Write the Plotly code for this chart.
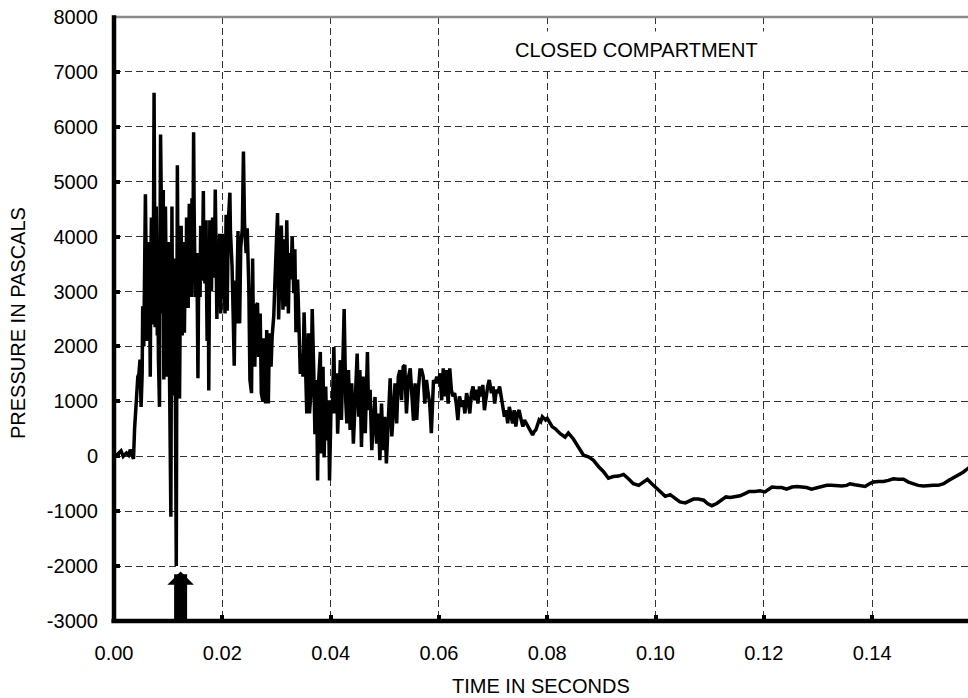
import plotly.graph_objects as go

# ---- data (time in s, pressure in Pa) ----
t_onset = [0.0000, 0.0005, 0.0009, 0.0013, 0.0017, 0.0020, 0.0023, 0.0027, 0.0030, 0.0033,
           0.0036, 0.0038, 0.0040, 0.0042, 0.0044, 0.0046, 0.0048, 0.0050, 0.0052, 0.0053, 0.0055]
p_onset = [0, 20, 60, 100, 0, 40, 60, 20, 120, 40,
           -50, 500, 880, 1150, 1450, 1500, 1760, 900, 1500, 2730, 2000]

t_burst = [0.0058, 0.0060, 0.0061, 0.0063, 0.0064, 0.0066, 0.0067, 0.0068, 0.0069, 0.0070,
           0.0071, 0.0073, 0.0074, 0.0075, 0.0076, 0.0077, 0.0078, 0.0080, 0.0081, 0.0082,
           0.0084, 0.0085, 0.0086, 0.0088, 0.0089, 0.0090, 0.0091, 0.0092, 0.0093, 0.0095,
           0.0096, 0.0098, 0.0099, 0.0101, 0.0102, 0.0103, 0.0105, 0.0106, 0.0107, 0.0108,
           0.0109, 0.0110, 0.0111, 0.0112, 0.0113, 0.0115, 0.0116, 0.0117, 0.0118, 0.0120,
           0.0121, 0.0122, 0.0123, 0.0124, 0.0126, 0.0127, 0.0128, 0.0129, 0.0130, 0.0131,
           0.0132, 0.0133, 0.0134, 0.0135, 0.0137, 0.0138, 0.0139, 0.0140, 0.0142, 0.0143,
           0.0144, 0.0146, 0.0147, 0.0148, 0.0149, 0.0150, 0.0152, 0.0153, 0.0154, 0.0155,
           0.0156, 0.0158, 0.0159, 0.0160, 0.0161, 0.0163, 0.0164, 0.0165, 0.0166, 0.0168,
           0.0169, 0.0170, 0.0171, 0.0172, 0.0174, 0.0175, 0.0176, 0.0177, 0.0179, 0.0180,
           0.0181, 0.0182, 0.0184, 0.0185, 0.0186, 0.0187, 0.0189, 0.0190, 0.0191, 0.0192,
           0.0193, 0.0195, 0.0196, 0.0197, 0.0199, 0.0200, 0.0201, 0.0202, 0.0204, 0.0205,
           0.0206, 0.0207, 0.0208, 0.0209]
p_burst = [4770, 3200, 2100, 2900, 3900, 2600, 1450, 3400, 4350, 2400,
           3000, 4300, 6620, 4000, 2350, 3800, 4550, 2200, 3300, 1800,
           900, 3900, 5860, 4100, 2600, 3300, 4850, 1400, 2500, 4550,
           2900, 1450, 2400, 3900, 2000, 480, -1100, 2000, 4550, 2500,
           1100, 3100, 2600, 3600, 1500, -2000, 1800, 5300, 3600, 2500,
           1050, 2300, 3450, 4200, 2200, 3100, 3900, 2900, 2250, 3100,
           3650, 2800, 4350, 3300, 2700, 3600, 4600, 3000, 3600, 2900,
           4700, 4100, 5900, 4500, 3800, 2900, 3100, 3700, 2600, 1420,
           2800, 3600, 2900, 4200, 3300, 3200, 4000, 4830, 3600, 3150,
           3800, 4300, 3000, 2100, 3300, 1200, 2800, 4300, 3400, 3000,
           3900, 4350, 3600, 3250, 4000, 4860, 3300, 2500, 3400, 3800,
           3100, 4050, 3200, 2600, 3500, 4050, 3100, 3700, 3000, 2600,
           3500, 4400, 3300, 2650]

t_mid = [0.0211, 0.0214, 0.0215, 0.0218, 0.0220, 0.0222, 0.0224, 0.0226, 0.0229, 0.0232,
         0.0234, 0.0237, 0.0239, 0.0241, 0.0244, 0.0246, 0.0249, 0.0251, 0.0254, 0.0256,
         0.0257, 0.0260, 0.0262, 0.0265, 0.0267, 0.0270, 0.0272, 0.0275, 0.0277, 0.0280,
         0.0282, 0.0285, 0.0287, 0.0290, 0.0292, 0.0295, 0.0297, 0.0300, 0.0302, 0.0304,
         0.0307, 0.0309, 0.0312, 0.0314, 0.0317, 0.0319, 0.0322, 0.0324, 0.0327, 0.0329,
         0.0332, 0.0334, 0.0336, 0.0339, 0.0341, 0.0344, 0.0346, 0.0349, 0.0351, 0.0354,
         0.0356, 0.0359, 0.0361, 0.0364, 0.0366, 0.0369, 0.0371, 0.0374, 0.0376, 0.0378,
         0.0381, 0.0383, 0.0386, 0.0388, 0.0391, 0.0393, 0.0396, 0.0398, 0.0401, 0.0403,
         0.0406, 0.0408, 0.0411, 0.0413, 0.0415, 0.0418, 0.0420]
p_mid = [4250, 4800, 4100, 3460, 2600, 1650, 3200, 2420, 4100, 2420,
         3800, 4150, 5550, 4250, 3700, 4150, 3050, 1390, 1150, 3600,
         2670, 1630, 2730, 2790, 1810, 2600, 1150, 1000, 2150, 960,
         2300, 960, 2240, 1630, 2180, 2550, 3130, 4000, 4430, 2490,
         3650, 4200, 2670, 3950, 2730, 4300, 2600, 3700, 3220, 4000,
         2970, 3770, 2260, 3220, 2600, 1500, 1870, 1450, 2620, 1700,
         780, 2240, 780, 1200, 2680, 1500, 400, 1390, -440, 1390,
         1900, 50, 1630, -20, 1270, 290, 1020, -440, 1020, 780,
         1990, 780, 1510, 410, 1080, 1750, 660]

t_late = [0.0425, 0.0428, 0.0430, 0.0433, 0.0436, 0.0439, 0.0442, 0.0445, 0.0449, 0.0452,
          0.0454, 0.0457, 0.0460, 0.0464, 0.0468, 0.0470, 0.0473, 0.0476, 0.0479, 0.0482,
          0.0485, 0.0488, 0.0491, 0.0494, 0.0497, 0.0500, 0.0503, 0.0507, 0.0510, 0.0513,
          0.0516, 0.0519, 0.0522, 0.0525, 0.0528, 0.0531, 0.0534, 0.0537, 0.0540, 0.0544,
          0.0547, 0.0550, 0.0553, 0.0556, 0.0559, 0.0562, 0.0565, 0.0568, 0.0571, 0.0574,
          0.0577, 0.0580, 0.0583, 0.0586, 0.0590, 0.0593, 0.0596, 0.0599, 0.0602, 0.0605,
          0.0608, 0.0611, 0.0614, 0.0617, 0.0620, 0.0623, 0.0626, 0.0629, 0.0632, 0.0635,
          0.0638, 0.0642, 0.0645, 0.0648, 0.0651, 0.0654, 0.0657, 0.0660, 0.0663, 0.0666,
          0.0669, 0.0672, 0.0675, 0.0678, 0.0681, 0.0684, 0.0687, 0.0690, 0.0693, 0.0697,
          0.0700, 0.0703, 0.0706, 0.0709, 0.0712, 0.0715, 0.0718, 0.0721, 0.0724, 0.0727,
          0.0730, 0.0733, 0.0736, 0.0739, 0.0742, 0.0745, 0.0748, 0.0752, 0.0755, 0.0758,
          0.0761, 0.0764, 0.0767, 0.0770, 0.0773, 0.0776, 0.0779, 0.0782, 0.0785, 0.0788,
          0.0791, 0.0794, 0.0797, 0.0800, 0.0803, 0.0806, 0.0809]
p_late = [2680, 1000, 600, 1570, 480, 1330, 230, 900, 1870, 720,
          1570, 170, 1450, 420, 1900, 840, 1210, 110, 720, 1080,
          230, 780, -70, 960, 110, 720, -130, 1020, 1420, 360,
          840, 1330, 600, 1450, 1570, 1020, 1630, 1660, 780, 1450,
          1600, 1020, 650, 1330, 660, 1210, 1570, 1570, 1450, 960,
          1390, 1150, 960, 420, 1390, 1330, 1450, 1330, 1510, 1020,
          1600, 1090, 1570, 960, 1600, 1210, 1090, 1150, 960, 660,
          1090, 900, 1020, 780, 1150, 1020, 780, 1150, 1270, 1020,
          1210, 960, 1270, 1090, 1300, 840, 1090, 1270, 1390, 1150,
          1270, 960, 1210, 1150, 1270, 1090, 900, 720, 840, 600,
          900, 780, 600, 840, 540, 780, 840, 660, 540, 660,
          600, 540, 480, 420, 390, 450, 480, 570, 660, 630,
          720, 690, 660, 690, 630, 600, 540]

t_tail = [0.0815, 0.0824, 0.0833, 0.0839, 0.0848, 0.0858, 0.0867, 0.0876, 0.0885, 0.0895,
          0.0904, 0.0913, 0.0922, 0.0932, 0.0941, 0.0950, 0.0959, 0.0969, 0.0978, 0.0985,
          0.0993, 0.1002, 0.1012, 0.1018, 0.1027, 0.1036, 0.1045, 0.1055, 0.1064, 0.1070,
          0.1079, 0.1089, 0.1096, 0.1104, 0.1113, 0.1122, 0.1130, 0.1138, 0.1147, 0.1156,
          0.1165, 0.1173, 0.1184, 0.1193, 0.1202, 0.1208, 0.1215, 0.1224, 0.1233, 0.1242,
          0.1252, 0.1261, 0.1270, 0.1279, 0.1288, 0.1298, 0.1307, 0.1316, 0.1325, 0.1335,
          0.1344, 0.1353, 0.1359, 0.1368, 0.1378, 0.1387, 0.1395, 0.1402, 0.1412, 0.1421,
          0.1430, 0.1439, 0.1448, 0.1458, 0.1467, 0.1476, 0.1485, 0.1495, 0.1504, 0.1513,
          0.1522, 0.1532, 0.1541, 0.1550, 0.1559, 0.1568, 0.1577, 0.1590]
p_tail = [500, 410, 350, 424, 320, 170, 20, -10, -70, -190,
          -280, -400, -370, -360, -330, -410, -500, -530, -470, -420,
          -500, -590, -690, -730, -700, -770, -830, -850, -800, -780,
          -780, -800, -860, -900, -860, -800, -740, -750, -740, -720,
          -680, -640, -640, -630, -650, -610, -560, -570, -570, -600,
          -560, -550, -560, -570, -600, -580, -560, -530, -530, -540,
          -540, -530, -500, -520, -530, -550, -500, -470, -460, -460,
          -440, -410, -420, -420, -470, -500, -530, -540, -530, -530,
          -530, -500, -440, -390, -350, -290, -220, -150]

x_ticks = [0.00, 0.02, 0.04, 0.06, 0.08, 0.10, 0.12, 0.14]
x_tick_text = ["0.00", "0.02", "0.04", "0.06", "0.08", "0.10", "0.12", "0.14"]
y_ticks = [-3000, -2000, -1000, 0, 1000, 2000, 3000, 4000, 5000, 6000, 7000, 8000]
y_tick_text = ["-3000", "-2000", "-1000", "0", "1000", "2000", "3000",
               "4000", "5000", "6000", "7000", "8000"]

arrow_time = 0.0123
arrow_tip = -2100

time_s = t_onset + t_burst + t_mid + t_late + t_tail
pressure = p_onset + p_burst + p_mid + p_late + p_tail

FONT = "Liberation Sans, Arial, sans-serif"

fig = go.Figure()
fig.add_trace(go.Scatter(x=time_s, y=pressure, mode="lines",
                         line=dict(color="black", width=3.5), hoverinfo="skip"))

fig.update_layout(
    width=968, height=698,
    margin=dict(l=114, r=0, t=17, b=77),
    paper_bgcolor="white", plot_bgcolor="white",
    showlegend=False,
    font=dict(family=FONT, size=20, color="black"),
)

grid = dict(showgrid=True, gridcolor="#333333", gridwidth=1, griddash="7px,4px",
            showline=False,
            ticks="inside", ticklen=6, tickwidth=3.5, tickcolor="black",
            zeroline=False, tickfont=dict(family=FONT, size=20, color="black"))

fig.update_xaxes(range=[0, 0.1577], tickvals=x_ticks, ticktext=x_tick_text,
                 ticklabelstandoff=18, **grid)
fig.update_yaxes(range=[-3000, 8000], tickvals=y_ticks, ticktext=y_tick_text,
                 ticklabelstandoff=15, **grid)

# frame: gray top line, thick black left and bottom axes
fig.add_shape(type="line", xref="paper", yref="paper", x0=0, x1=1, y0=1, y1=1,
              line=dict(color="#8a8a8a", width=2.5), layer="above")
fig.add_shape(type="line", xref="paper", yref="paper", x0=0, x1=0, y0=-0.003, y1=1.003,
              line=dict(color="black", width=4.5), layer="above")
fig.add_shape(type="line", xref="paper", yref="paper", x0=-0.003, x1=1, y0=0, y1=0,
              line=dict(color="black", width=4.5), layer="above")

fig.add_annotation(x=0.0964, y=7400, xref="x", yref="y", text="CLOSED COMPARTMENT",
                   showarrow=False, bgcolor="white", borderpad=7,
                   font=dict(family=FONT, size=20, color="black"))

# arrow marking the deepest dip
fig.add_annotation(x=arrow_time, y=arrow_tip, xref="x", yref="y",
                   ax=arrow_time, ay=-3000, axref="x", ayref="y",
                   text="", showarrow=True, arrowhead=1, arrowsize=0.34,
                   arrowwidth=13, arrowcolor="black")

# axis titles
fig.add_annotation(xref="paper", yref="paper", x=0.5, y=-(686 - 621) / 604,
                   text="TIME IN SECONDS", showarrow=False,
                   xanchor="center", yanchor="middle",
                   font=dict(family=FONT, size=20, color="black"))
fig.add_annotation(xref="paper", yref="paper", x=(18 - 114) / 854, y=1 - (323 - 17) / 604,
                   text="PRESSURE IN PASCALS", showarrow=False, textangle=-90,
                   xanchor="center", yanchor="middle",
                   font=dict(family=FONT, size=20, color="black"))

fig.write_html("out.html")
